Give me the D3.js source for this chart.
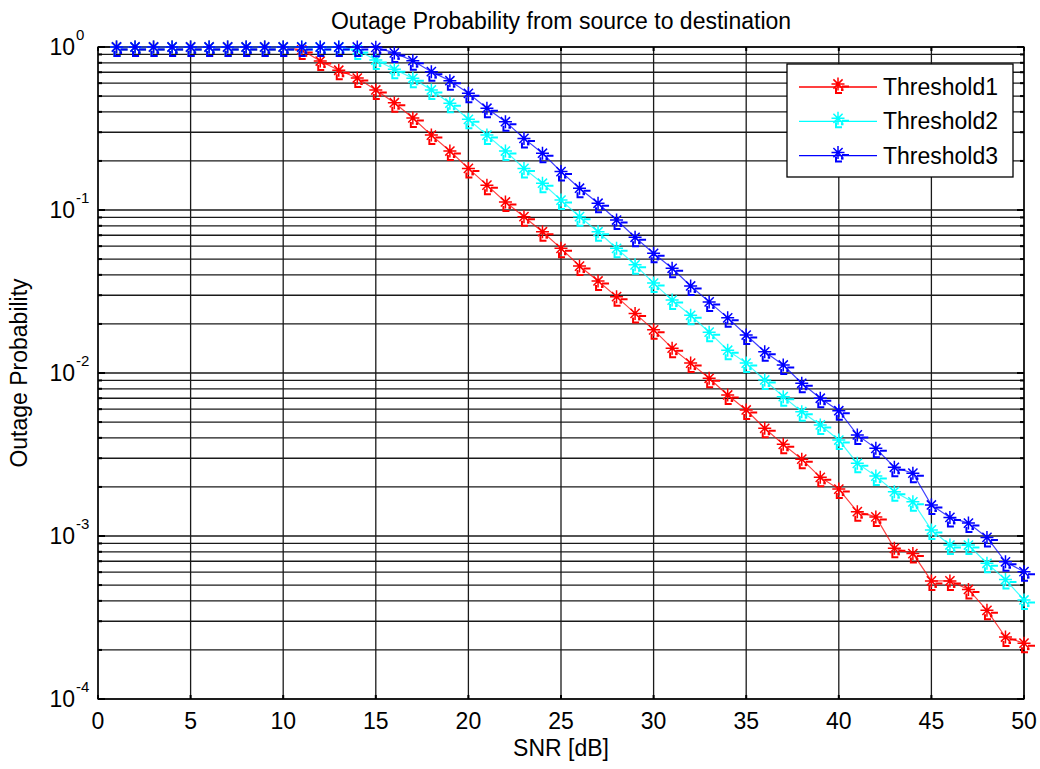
<!DOCTYPE html>
<html>
<head>
<meta charset="utf-8">
<script src="https://cdn.jsdelivr.net/npm/d3@7"></script>
<style>
  body { margin: 0; background: #fff; }
  svg { display: block; }
  text { font-family: "Liberation Sans", Arial, sans-serif; fill: #000; }
</style>
</head>
<body>
<svg id="chart" width="1040" height="769"></svg>
<script>
// ---- data ----
const snr = d3.range(1, 51);
const threshold1 = [1,1,1,1,1,1,1,1,1,1,
  0.96,0.82,0.72,0.645,0.545,0.455,0.367,0.288,0.23,0.18,
  0.142,0.112,0.091,0.0736,0.0582,0.0453,0.0367,0.0294,0.0232,0.0184,
  0.0142,0.0115,0.00928,0.00733,0.00593,0.00458,0.00365,0.00296,0.00229,0.00194,
  0.00141,0.00131,0.00084,0.00078,0.00053,0.00053,0.00047,0.00035,0.00024,0.00022];
const threshold2 = [1,1,1,1,1,1,1,1,1,1,
  1,1,1,0.96,0.832,0.73,0.643,0.545,0.452,0.36,
  0.288,0.23,0.18,0.146,0.115,0.091,0.0736,0.0582,0.0461,0.0356,
  0.028,0.0226,0.0178,0.0138,0.0115,0.00906,0.00716,0.00579,0.0048,0.00388,
  0.00279,0.00233,0.00187,0.00162,0.00109,0.00088,0.00088,0.00068,0.00054,0.000405];
const threshold3 = [1,1,1,1,1,1,1,1,1,1,
  1,1,1,1,0.995,0.92,0.824,0.706,0.621,0.52,
  0.421,0.348,0.275,0.223,0.172,0.136,0.11,0.0868,0.068,0.0542,
  0.0439,0.0342,0.0273,0.0218,0.0171,0.0135,0.0112,0.00865,0.007,0.00587,
  0.00417,0.00345,0.00264,0.00243,0.00155,0.0013,0.0012,0.00098,0.000695,0.000604];
const seriesNames = ["Threshold1", "Threshold2", "Threshold3"];
const seriesColors = ["#ff0000", "#00ffff", "#0000ff"];
const xTicks = [0,5,10,15,20,25,30,35,40,45,50];
const yDecades = [0,-1,-2,-3,-4];
const titleText = "Outage Probability from source to destination";
const xLabel = "SNR [dB]";
const yLabel = "Outage Probability";

// ---- layout ----
const L = 98, R = 1024, T = 47, B = 699;
const svg = d3.select("#chart");
const x = d3.scaleLinear().domain([0, 50]).range([L, R]);
const y = d3.scaleLog().domain([1e-4, 1]).range([B, T]);

// grid
const grid = svg.append("g").attr("stroke", "#1a1a1a").attr("stroke-width", 1.3);
xTicks.forEach(t => {
  grid.append("line").attr("x1", x(t)).attr("x2", x(t)).attr("y1", T).attr("y2", B);
});
const minorVals = [];
for (let e = -4; e < 0; e++) for (let m = 1; m <= 9; m++) minorVals.push(m * Math.pow(10, e));
minorVals.push(1);
minorVals.forEach(v => {
  grid.append("line").attr("x1", L).attr("x2", R).attr("y1", y(v)).attr("y2", y(v));
});

// axes box
svg.append("rect").attr("x", L).attr("y", T).attr("width", R - L).attr("height", B - T)
  .attr("fill", "none").attr("stroke", "#000").attr("stroke-width", 1.3);

// ticks (inside)
const ticks = svg.append("g").attr("stroke", "#000").attr("stroke-width", 2);
xTicks.forEach(t => {
  ticks.append("line").attr("x1", x(t)).attr("x2", x(t)).attr("y1", B).attr("y2", B - 4);
  ticks.append("line").attr("x1", x(t)).attr("x2", x(t)).attr("y1", T).attr("y2", T + 4);
});
minorVals.forEach(v => {
  const major = Math.abs(Math.log10(v) - Math.round(Math.log10(v))) < 1e-9;
  const len = major ? 7 : 4;
  ticks.append("line").attr("x1", L).attr("x2", L + len).attr("y1", y(v)).attr("y2", y(v));
  ticks.append("line").attr("x1", R).attr("x2", R - len).attr("y1", y(v)).attr("y2", y(v));
});

// x tick labels
xTicks.forEach(t => {
  svg.append("text").attr("x", x(t)).attr("y", B + 30).attr("text-anchor", "middle")
    .attr("font-size", 23).text(t);
});
// y tick labels
yDecades.forEach(e => {
  const yy = y(Math.pow(10, e));
  svg.append("text").attr("x", 75).attr("y", yy + 8).attr("text-anchor", "end")
    .attr("font-size", 23).text("10");
  svg.append("text").attr("x", 76).attr("y", yy - 7).attr("text-anchor", "start")
    .attr("font-size", 15).text(e === 0 ? "0" : "-" + Math.abs(e));
});

// title and labels
svg.append("text").attr("x", (L + R) / 2).attr("y", 29).attr("text-anchor", "middle")
  .attr("font-size", 23).text(titleText);
svg.append("text").attr("x", (L + R) / 2).attr("y", 756).attr("text-anchor", "middle")
  .attr("font-size", 23).text(xLabel);
svg.append("text").attr("transform", `translate(27,${(T + B) / 2}) rotate(-90)`)
  .attr("text-anchor", "middle").attr("font-size", 23).text(yLabel);

// marker drawing
function drawMarker(g, cx, cy, color) {
  const m = g.append("g").attr("transform", `translate(${cx},${cy})`);
  const r = 6.5, d = 4.6;
  m.append("path")
    .attr("d", `M0,${-r}V${r}M${-r},0H${r}M${-d},${-d}L${d},${d}M${-d},${d}L${d},${-d}`)
    .attr("stroke", color).attr("stroke-width", 1.5).attr("fill", "none");
  m.append("path")
    .attr("d", `M4,2.5H11M-2,4V9H4`)
    .attr("stroke", color).attr("stroke-width", 2).attr("fill", "none");
  m.append("rect").attr("x", 3).attr("y", 4.5).attr("width", 2.5).attr("height", 2.5).attr("fill", color);
}

// series
const allSeries = [threshold1, threshold2, threshold3];
const line = d3.line().x(d => x(d[0])).y(d => y(d[1]));
allSeries.forEach((vals, i) => {
  const pts = snr.map((s, k) => [s, vals[k]]);
  const g = svg.append("g");
  g.append("path").attr("d", line(pts)).attr("fill", "none")
    .attr("stroke", seriesColors[i]).attr("stroke-width", 1.2).attr("stroke-opacity", 0.75);
  pts.forEach(p => drawMarker(g, x(p[0]), y(p[1]), seriesColors[i]));
});

// legend
const lg = svg.append("g");
lg.append("rect").attr("x", 787).attr("y", 64).attr("width", 226).attr("height", 113)
  .attr("fill", "#fff").attr("stroke", "#000").attr("stroke-width", 1.3);
seriesNames.forEach((name, i) => {
  const yy = 87 + i * 34.3;
  lg.append("line").attr("x1", 799).attr("x2", 877).attr("y1", yy).attr("y2", yy)
    .attr("stroke", seriesColors[i]).attr("stroke-width", 1.3);
  drawMarker(lg, 838, yy - 3, seriesColors[i]);
  lg.append("text").attr("x", 883).attr("y", yy + 8).attr("font-size", 23).text(name);
});
</script>
</body>
</html>
